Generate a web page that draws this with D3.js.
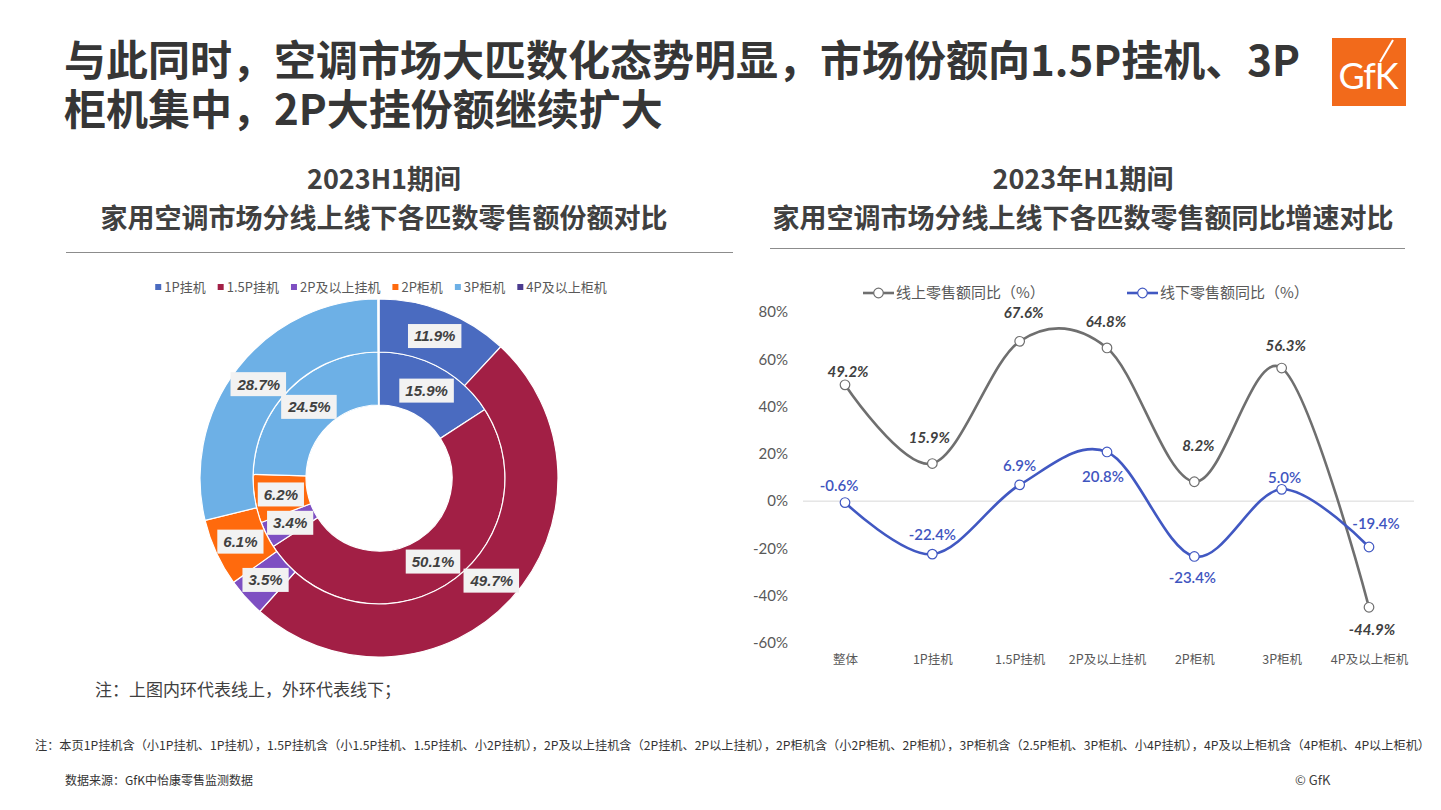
<!DOCTYPE html>
<html><head><meta charset="utf-8">
<script src="https://cdn.jsdelivr.net/npm/d3@7"></script>
<style>
html,body{margin:0;padding:0;background:#fff;}
svg{display:block;}
</style></head>
<body>
<svg id="c" width="1441" height="810"></svg>
<script>
// ---------- DATA ----------
const donutCategories = ["1P挂机","1.5P挂机","2P及以上挂机","2P柜机","3P柜机","4P及以上柜机"];
const onlineShare  = [15.9, 50.1, 3.4, 6.2, 24.5, 0.1];   // inner ring (线上)
const offlineShare = [11.9, 49.7, 3.5, 6.1, 28.7, 0.1];   // outer ring (线下)
const donutColors = ["#4A6BC0","#A21F45","#7E4FC2","#FF6A0D","#6DB0E6","#4B3B8F"];

const lineCategories = ["整体","1P挂机","1.5P挂机","2P及以上挂机","2P柜机","3P柜机","4P及以上柜机"];
const onlineGrowth  = [49.2, 15.9, 67.6, 64.8, 8.2, 56.3, -44.9];
const offlineGrowth = [-0.6, -22.4, 6.9, 20.8, -23.4, 5.0, -19.4];
const yTicks = [80, 60, 40, 20, 0, -20, -40, -60];
const seriesNames = ["线上零售额同比（%）","线下零售额同比（%）"];

// label placement (layout only)
const onlineLabelOffsets  = [[3,-13],[-3,-26],[4,-29],[-1,-26],[4,-36],[4,-22],[3,22]];
const offlineLabelOffsets = [[-6,-17],[0,-19],[0,-19],[-4,25],[-2,21],[3,-12],[7,-23]];

const svg = d3.select("#c");
const CJK = "'Noto Sans CJK SC','Noto Sans',sans-serif";

// ---------- TITLE ----------
const title = svg.append("g").attr("font-family", CJK).attr("font-weight", 700)
  .attr("fill", "#363636").attr("font-size", 42);
title.append("text").attr("x", 64).attr("y", 76).text("与此同时，空调市场大匹数化态势明显，市场份额向1.5P挂机、3P");
title.append("text").attr("x", 64).attr("y", 125).text("柜机集中，2P大挂份额继续扩大");

// Logo
const logo = svg.append("g");
logo.append("rect").attr("x", 1332).attr("y", 38).attr("width", 74).attr("height", 68).attr("fill", "#F26A1B");
logo.append("text").attr("x", 1368).attr("y", 89).attr("text-anchor", "middle")
  .attr("font-family", "Lato, 'Open Sans', sans-serif").attr("font-weight", 400)
  .attr("font-size", 36).attr("fill", "#fff").attr("letter-spacing", -1).text("GfK");
logo.append("line").attr("x1", 1393).attr("y1", 40).attr("x2", 1380).attr("y2", 62)
  .attr("stroke", "#fff").attr("stroke-width", 2);

// ---------- SUBTITLES ----------
function subtitle(cx, lines, lineY, x1, x2) {
  const g = svg.append("g").attr("font-family", CJK).attr("font-weight", 700)
    .attr("fill", "#404040").attr("font-size", 27).attr("text-anchor", "middle");
  g.append("text").attr("x", cx).attr("y", 189).text(lines[0]);
  g.append("text").attr("x", cx).attr("y", 228).text(lines[1]);
  svg.append("line").attr("x1", x1).attr("x2", x2).attr("y1", lineY).attr("y2", lineY)
    .attr("stroke", "#8C8C8C").attr("stroke-width", 1);
}
subtitle(384, ["2023H1期间", "家用空调市场分线上线下各匹数零售额份额对比"], 252.5, 66, 733);
subtitle(1083, ["2023年H1期间", "家用空调市场分线上线下各匹数零售额同比增速对比"], 248.5, 770, 1405);

// ---------- DONUT ----------
const cx = 379, cy = 478;
const rHole = 73, rMid = 126, rOut = 179;
const pie = d3.pie().sort(null).value(d => d);
const dg = svg.append("g").attr("transform", `translate(${cx},${cy})`);

function ring(values, r0, r1, cls) {
  const arcs = pie(values);
  const arc = d3.arc().innerRadius(r0).outerRadius(r1);
  dg.selectAll("path." + cls).data(arcs).join("path").attr("class", cls)
    .attr("d", arc).attr("fill", (d, i) => donutColors[i])
    .attr("stroke", "#fff").attr("stroke-width", 1.2);
  return {arcs, arc};
}
const inner = ring(onlineShare, rHole, rMid, "in");
const outer = ring(offlineShare, rMid, rOut, "out");

function ringLabels(r) {
  r.arcs.forEach((a, i) => {
    if (a.data < 1) return;
    const [x, y] = r.arc.centroid(a);
    const g = dg.append("g").attr("transform", `translate(${x},${y})`);
    const t = g.append("text").attr("text-anchor", "middle").attr("dy", "0.36em")
      .attr("font-family", "'Liberation Sans', Arial, sans-serif").attr("font-weight", 700)
      .attr("font-style", "italic").attr("font-size", 15).attr("fill", "#404040")
      .text(a.data.toFixed(1) + "%");
    const bb = t.node().getBBox();
    g.insert("rect", "text").attr("x", bb.x - 6).attr("y", -12).attr("width", bb.width + 12)
      .attr("height", 24).attr("fill", "#F2F2F2");
  });
}
ringLabels(inner);
ringLabels(outer);

// donut legend
{
  const lg = svg.append("g").attr("font-family", CJK).attr("font-size", 13).attr("fill", "#595959");
  let x = 0;
  const items = [];
  donutCategories.forEach((c, i) => {
    const g = lg.append("g");
    g.append("rect").attr("x", 0).attr("y", -3).attr("width", 6).attr("height", 6).attr("fill", donutColors[i]);
    const t = g.append("text").attr("x", 9).attr("dy", "0.35em").text(c);
    const w = 9 + t.node().getComputedTextLength();
    items.push({g, x});
    x += w + 12;
  });
  const total = x - 12;
  const start = 381 - total / 2;
  items.forEach(it => it.g.attr("transform", `translate(${start + it.x},287)`));
}

// ---------- LINE CHART ----------
const xS = d3.scalePoint().domain(lineCategories).range([845, 1369]);
const yS = d3.scaleLinear().domain([-60, 80]).range([643, 312]);

// zero line
svg.append("line").attr("x1", 803).attr("x2", 1414).attr("y1", yS(0)).attr("y2", yS(0))
  .attr("stroke", "#D9D9D9").attr("stroke-width", 1);

// y axis
const yAxis = d3.axisLeft(yS).tickValues(yTicks).tickSize(0).tickPadding(0)
  .tickFormat(d => d + "%");
const ya = svg.append("g").attr("transform", "translate(788,0)").call(yAxis);
ya.select(".domain").remove();
ya.selectAll("text").attr("font-family", "Lato, 'Noto Sans', sans-serif").attr("font-size", 15).attr("fill", "#595959");

// x axis
const xAxis = d3.axisBottom(xS).tickSize(0).tickPadding(0);
const xa = svg.append("g").attr("transform", "translate(0,655)").call(xAxis);
xa.select(".domain").remove();
xa.selectAll("text").attr("font-family", CJK).attr("font-size", 12.5).attr("fill", "#595959");

const lineGen = d3.line().x((d, i) => xS(lineCategories[i])).y(d => yS(d)).curve(d3.curveCardinal.tension(0));

function series(values, color, labelColor, italic, offsets) {
  svg.append("path").datum(values).attr("d", lineGen).attr("fill", "none")
    .attr("stroke", color).attr("stroke-width", 2.6);
  svg.append("g").selectAll("circle").data(values).join("circle")
    .attr("cx", (d, i) => xS(lineCategories[i])).attr("cy", d => yS(d)).attr("r", 4.8)
    .attr("fill", "#fff").attr("stroke", color).attr("stroke-width", 1.2);
  svg.append("g").selectAll("text").data(values).join("text")
    .attr("x", (d, i) => xS(lineCategories[i]) + offsets[i][0])
    .attr("y", (d, i) => yS(d) + offsets[i][1]).attr("dy", "0.35em")
    .attr("text-anchor", "middle").attr("font-family", "Lato, 'Noto Sans', sans-serif")
    .attr("font-size", 15).attr("font-weight", italic ? 700 : 600)
    .attr("font-style", italic ? "italic" : "normal").attr("fill", labelColor)
    .text(d => d.toFixed(1) + "%");
}
series(onlineGrowth, "#6F6F6F", "#404040", true, onlineLabelOffsets);
series(offlineGrowth, "#4158C2", "#3F55BF", false, offlineLabelOffsets);

// legend
{
  const lgColors = ["#6F6F6F", "#4158C2"];
  const lgX = [863, 1127];
  seriesNames.forEach((n, i) => {
    const g = svg.append("g").attr("transform", `translate(${lgX[i]},293)`);
    g.append("line").attr("x1", 0).attr("x2", 31).attr("stroke", lgColors[i]).attr("stroke-width", 2.6);
    g.append("circle").attr("cx", 15.5).attr("r", 4.8).attr("fill", "#fff").attr("stroke", lgColors[i]).attr("stroke-width", 1.2);
    g.append("text").attr("x", 33).attr("dy", "0.35em").attr("font-family", CJK)
      .attr("font-size", 15).attr("fill", "#595959").text(n);
  });
}

// ---------- NOTES ----------
svg.append("text").attr("x", 95).attr("y", 696).attr("font-family", CJK).attr("font-size", 17)
  .attr("fill", "#404040").text("注：上图内环代表线上，外环代表线下；");

svg.append("text").attr("x", 35).attr("y", 750).attr("font-family", CJK).attr("font-size", 12)
  .attr("fill", "#333").attr("textLength", 1395).attr("lengthAdjust", "spacingAndGlyphs")
  .text("注：本页1P挂机含（小1P挂机、1P挂机），1.5P挂机含（小1.5P挂机、1.5P挂机、小2P挂机），2P及以上挂机含（2P挂机、2P以上挂机），2P柜机含（小2P柜机、2P柜机），3P柜机含（2.5P柜机、3P柜机、小4P挂机），4P及以上柜机含（4P柜机、4P以上柜机）");

svg.append("text").attr("x", 65).attr("y", 785).attr("font-family", CJK).attr("font-size", 12)
  .attr("fill", "#333").text("数据来源：GfK中怡康零售监测数据");
svg.append("text").attr("x", 1295).attr("y", 785).attr("font-family", CJK).attr("font-size", 13)
  .attr("fill", "#404040").text("© GfK");
</script>
</body></html>
